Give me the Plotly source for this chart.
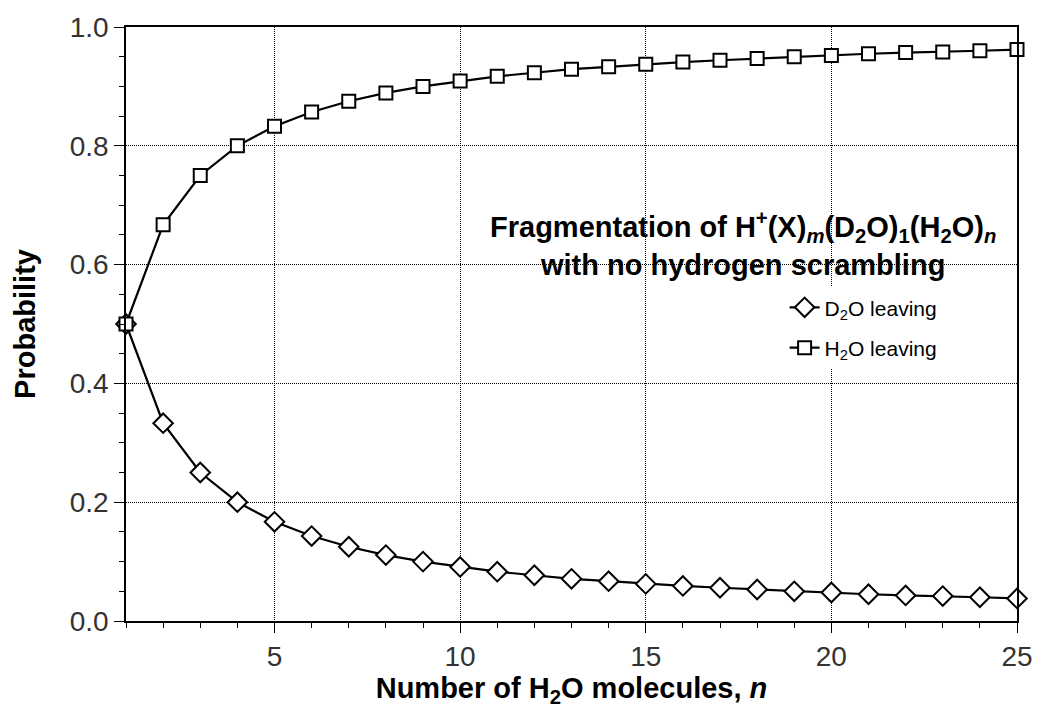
import plotly.graph_objects as go

n_values = list(range(1, 26))
d2o_leaving = [0.500, 0.333, 0.250, 0.200, 0.167, 0.143, 0.125, 0.111, 0.100, 0.091,
               0.083, 0.077, 0.071, 0.067, 0.0625, 0.059, 0.056, 0.053, 0.050, 0.048,
               0.045, 0.043, 0.042, 0.040, 0.038]
h2o_leaving = [0.500, 0.667, 0.750, 0.800, 0.833, 0.857, 0.875, 0.889, 0.900, 0.909,
               0.917, 0.923, 0.929, 0.933, 0.9375, 0.941, 0.944, 0.947, 0.950, 0.952,
               0.955, 0.957, 0.958, 0.960, 0.962]

FONT = "Liberation Sans"

fig = go.Figure()
fig.add_trace(go.Scatter(
    x=n_values, y=d2o_leaving, mode="lines+markers", name="D<sub>2</sub>O leaving",
    legendgroup="d2o",
    line=dict(color="black", width=2.2), cliponaxis=False,
    marker=dict(symbol="diamond", size=15, color="white", line=dict(color="black", width=2)),
))
fig.add_trace(go.Scatter(
    x=n_values, y=h2o_leaving, mode="lines+markers", name="H<sub>2</sub>O leaving",
    legendgroup="h2o",
    line=dict(color="black", width=2.2), cliponaxis=False,
    marker=dict(symbol="square", size=13, color="white", line=dict(color="black", width=2)),
))

axis_common = dict(
    showline=True, linecolor="black", linewidth=1.5, mirror=True,
    ticks="outside", ticklen=10, tickcolor="black", tickwidth=1,
    showgrid=True, gridcolor="black", gridwidth=1, griddash="1px,1px",
    zeroline=False,
    tickfont=dict(family=FONT, size=28, color="#333"),
)

fig.update_xaxes(
    range=[1, 25], tick0=0, dtick=5,
    minor=dict(dtick=1, ticks="outside", ticklen=5, tickcolor="black", showgrid=False),
    title=dict(text="<b>Number of H<sub>2</sub>O molecules, <i>n</i></b>",
               font=dict(family=FONT, size=29, color="black"), standoff=6),
    **axis_common,
)
fig.update_yaxes(
    range=[0, 1], dtick=0.2, tickformat=".1f",
    minor=dict(dtick=0.05, ticks="outside", ticklen=5, tickcolor="black", showgrid=False),
    title=dict(text="<b>Probability</b>",
               font=dict(family=FONT, size=29, color="black"), standoff=26),
    **axis_common,
)

# white box behind the caption, hiding the gridlines there
fig.add_shape(type="rect", xref="paper", yref="paper",
              x0=(488 - 126) / 901, x1=1.0, y0=(630 - 284) / 605, y1=(630 - 180) / 605,
              fillcolor="white", line=dict(width=0), layer="between")

fig.add_annotation(
    xref="paper", yref="paper", x=(750 - 126) / 901, y=(630 - 246) / 605,
    xanchor="center", yanchor="middle",
    text="<b>Fragmentation of H<sup>+</sup>(X)<sub><i>m</i></sub>(D<sub>2</sub>O)<sub>1</sub>"
         "(H<sub>2</sub>O)<sub><i>n</i></sub><br>with no hydrogen scrambling</b>",
    showarrow=False, align="center",
    font=dict(family=FONT, size=29, color="black"),
)

fig.update_layout(
    width=1045, height=711,
    margin=dict(l=126, r=18, t=25, b=81),
    paper_bgcolor="white", plot_bgcolor="white",
    font=dict(family=FONT),
    legend=dict(x=(792 - 126) / 901, y=(630 - 290) / 605, xanchor="left", yanchor="top",
                bgcolor="white", font=dict(family=FONT, size=21, color="black"),
                itemwidth=30, tracegroupgap=10),
    showlegend=True,
)

fig.write_html("out.html")
